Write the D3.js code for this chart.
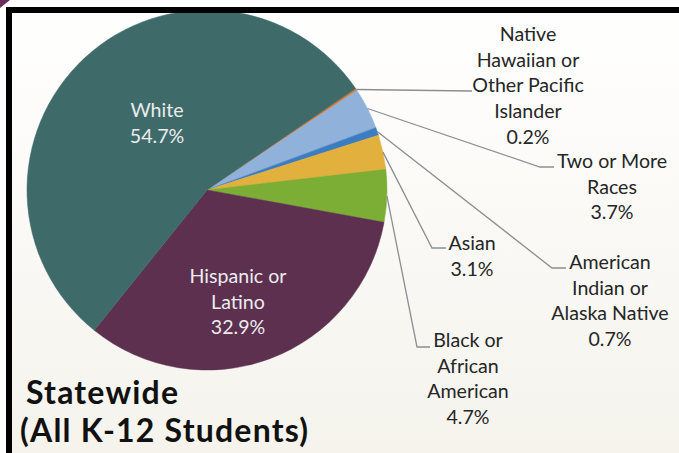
<!DOCTYPE html>
<html>
<head>
<meta charset="utf-8">
<script src="https://cdn.jsdelivr.net/npm/d3@7"></script>
<style>
  body { margin: 0; background: #fff; }
  svg { display: block; }
</style>
</head>
<body>
<div id="chart"></div>
<script>
// data, clockwise from the top-right edge of the White slice
var groups = ["Native Hawaiian or Other Pacific Islander", "Two or More Races",
              "American Indian or Alaska Native", "Asian", "Black or African American",
              "Hispanic or Latino", "White"];
var shares = [0.2, 3.7, 0.7, 3.1, 4.7, 32.9, 54.7];
var labelLines = [
  ["Native", "Hawaiian or", "Other Pacific", "Islander"],
  ["Two or More", "Races"],
  ["American", "Indian or", "Alaska Native"],
  ["Asian"],
  ["Black or", "African", "American"],
  ["Hispanic or", "Latino"],
  ["White"]
];
var colors = ["#e0792c", "#8fb1da", "#3c7cc0", "#e2b03c", "#7cad35", "#5d3050", "#3e6b6a"];

var width = 679, height = 453;
var cx = 207, cy = 190, r = 180;
var startDeg = 55.7;

// label placement: inside labels use first baseline, outside use the elbow of leader
var inside = {5: {x: 238, y: 283}, 6: {x: 157, y: 117}};
var outside = {
  0: {elbow: [470, 91], end: [472, 91], tx: 528, ty: 41},
  1: {elbow: [540, 167], end: [554, 167], tx: 612, ty: 168},
  2: {elbow: [552, 268], end: [566, 268], tx: 610, ty: 269},
  3: {elbow: [432, 248], end: [446, 248], tx: 472, ty: 250},
  4: {elbow: [417, 347], end: [430, 347], tx: 468, ty: 347}
};
var lh = 25.7;

var svg = d3.select("#chart").append("svg")
    .attr("width", width)
    .attr("height", height);

var defs = svg.append("defs");
var grad = defs.append("linearGradient")
    .attr("id", "bg").attr("x1", 0).attr("y1", 0).attr("x2", 0).attr("y2", 1);
grad.append("stop").attr("offset", "0%").attr("stop-color", "#ffffff");
grad.append("stop").attr("offset", "100%").attr("stop-color", "#f5f3ec");

svg.append("rect")
    .attr("x", 0).attr("y", 0)
    .attr("width", width).attr("height", height)
    .attr("fill", "url(#bg)");

var pie = d3.pie()
    .sort(null)
    .value(function(d) { return d; })
    .startAngle(startDeg * Math.PI / 180)
    .endAngle(startDeg * Math.PI / 180 + 2 * Math.PI);

var arcs = pie(shares);
var arc = d3.arc().innerRadius(0).outerRadius(r);
var edge = d3.arc().innerRadius(r).outerRadius(r);

var g = svg.append("g").attr("transform", "translate(" + cx + "," + cy + ")");

g.selectAll("path.slice")
  .data(arcs)
  .enter().append("path")
    .attr("class", "slice")
    .attr("d", arc)
    .attr("fill", function(d, i) { return colors[i]; })
    .attr("stroke", function(d, i) { return colors[i]; })
    .attr("stroke-width", 0.5);

var font = "Lato, 'Open Sans', sans-serif";

// leader lines + outside labels
arcs.forEach(function(d, i) {
  var o = outside[i];
  if (!o) return;
  var p = edge.centroid(d);
  var pts = [[cx + p[0], cy + p[1]], o.elbow, o.end];
  svg.append("path")
      .attr("d", d3.line()(pts))
      .attr("fill", "none")
      .attr("stroke", "#8a8f96")
      .attr("stroke-width", 1.3);

  var t = svg.append("text")
      .attr("text-anchor", "middle")
      .attr("font-family", font)
      .attr("font-size", 19.6)
      .attr("fill", "#262626");
  var lines = labelLines[i].concat([shares[i].toFixed(1) + "%"]);
  lines.forEach(function(s, k) {
    t.append("tspan").attr("x", o.tx).attr("y", o.ty + k * lh).text(s);
  });
});

// inside labels
arcs.forEach(function(d, i) {
  var o = inside[i];
  if (!o) return;
  var t = svg.append("text")
      .attr("text-anchor", "middle")
      .attr("font-family", font)
      .attr("font-size", 19.6)
      .attr("fill", "#ececec");
  var lines = labelLines[i].concat([shares[i].toFixed(1) + "%"]);
  lines.forEach(function(s, k) {
    t.append("tspan").attr("x", o.x).attr("y", o.y + k * lh).text(s);
  });
});

// title
var title = svg.append("text")
    .attr("font-family", font)
    .attr("font-weight", "bold")
    .attr("font-size", 32)
    .attr("letter-spacing", 1.2)
    .attr("fill", "#111");
title.append("tspan").attr("x", 26).attr("y", 404).text("Statewide");
title.append("tspan").attr("x", 20).attr("y", 442).text("(All K-12 Students)");

// frame
svg.append("rect").attr("x", 0).attr("y", 0).attr("width", width).attr("height", 7).attr("fill", "#fff");
svg.append("rect").attr("x", 0).attr("y", 0).attr("width", 6).attr("height", height).attr("fill", "#fff");
svg.append("path")
    .attr("d", "M0,0 L10,0 L0,8 Z")
    .attr("fill", "#6b2c5e");
svg.append("rect").attr("x", 6).attr("y", 7).attr("width", width - 6).attr("height", 6).attr("fill", "#000");
svg.append("rect").attr("x", 6).attr("y", 7).attr("width", 6).attr("height", height - 7).attr("fill", "#000");
</script>
</body>
</html>
